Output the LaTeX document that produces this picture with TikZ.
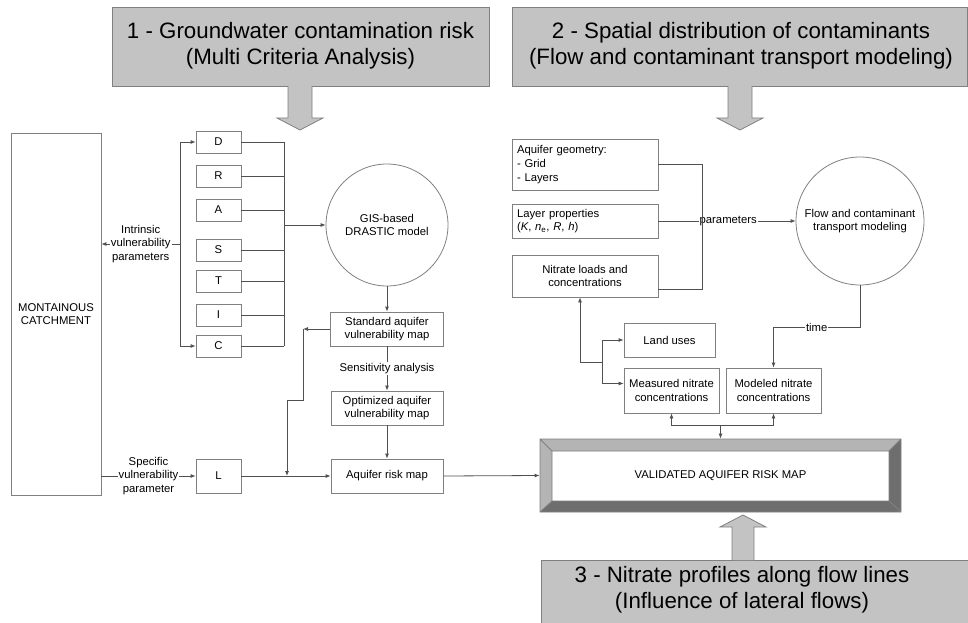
\documentclass[tikz,border=0pt]{standalone}
\usepackage{fontspec}
\setmainfont{Liberation Sans}
\usetikzlibrary{shapes, positioning, arrows.meta}

\definecolor{hdrgray}{HTML}{C3C3C3}
\definecolor{edgegray}{HTML}{808080}
\definecolor{linegray}{HTML}{505050}
\definecolor{bevlight}{HTML}{B4B4B4}
\definecolor{bevdark}{HTML}{6E6E6E}

\newcommand{\lblfont}{\fontsize{11.3}{13.6}\selectfont}
\newcommand{\hdrfont}{\fontsize{22.3}{26}\selectfont}

\begin{document}
\begin{tikzpicture}[x=1pt, y=-1pt, line width=0.8pt,
  box/.style={draw=edgegray, fill=white, inner sep=2pt, align=center, font=\lblfont},
  circ/.style={draw=edgegray, fill=white, circle, inner sep=0pt, align=center, font=\lblfont},
  hdr/.style={draw=edgegray, fill=hdrgray},
  conn/.style={draw=linegray, -{Latex[length=5pt,width=4pt]}},
  wire/.style={draw=linegray},
  lbl/.style={fill=white, inner sep=1pt, align=center, font=\lblfont}]

    \useasboundingbox (0,0) rectangle (968,623);

    % headers and block arrows
    \draw[hdr] (112,7) rectangle (489,86);
    \node[font=\hdrfont, align=center] (h1) at (300.5,46) {1 - Groundwater contamination risk\\(Multi Criteria Analysis)};
    \draw[hdr] (288,86) -- (288,118) -- (277,118) -- (300,130) -- (323,118) -- (312,118) -- (312,86);

    \draw[hdr] (512,7) rectangle (967,86);
    \node[font=\hdrfont, align=center] (h2) at (741,46) {2 - Spatial distribution of contaminants\\(Flow and contaminant transport modeling)};
    \draw[hdr] (728,86) -- (728,118) -- (717,118) -- (740,130) -- (763,118) -- (752,118) -- (752,86);

    \draw[hdr] (541,560) rectangle (975,640);
    \node[font=\hdrfont, align=center] (h3) at (742,590) {3 - Nitrate profiles along flow lines\\(Influence of lateral flows)};
    \draw[hdr] (732,560) -- (732,527) -- (720,527) -- (743,515) -- (766,527) -- (754,527) -- (754,560);

    % left part
    \node[box, minimum width=90pt, minimum height=362pt] (catch) at (56,314) {MONTAINOUS\\CATCHMENT};

    \foreach \n/\y in {D/142, R/176, A/210, S/250, T/281, I/315, C/346} {
        \node[box, minimum width=45pt, minimum height=22pt] (p\n) at (218.5,\y) {\n};
        \draw[wire] (p\n.east) -- (284,\y);
    }
    \draw[wire] (284,142) -- (284,346);

    \coordinate (dj) at (284,225);
    \node[circ, minimum size=122pt] (gis) at (387,225) {GIS-based\\DRASTIC model};
    \draw[conn] (dj) -- (gis.west);

    \coordinate (ivp) at (180,244);
    \draw[conn] (ivp) |- (pD.west);
    \draw[conn] (ivp) |- (pC.west);
    \draw[conn] (ivp) -- node[lbl]{Intrinsic\\vulnerability\\parameters} (catch.east |- ivp);

    \node[box, minimum width=113pt, minimum height=34pt] (std) at (387,329) {Standard aquifer\\vulnerability map};
    \node[box, minimum width=112pt, minimum height=34pt] (opt) at (387,408) {Optimized aquifer\\vulnerability map};
    \node[box, minimum width=112pt, minimum height=34pt] (risk) at (387,476) {Aquifer risk map};
    \draw[conn] (gis.south) -- (std.north);
    \draw[conn] (std.south) -- node[lbl]{Sensitivity analysis} (opt.north);
    \draw[conn] (opt.south) -- (risk.north);

    \node[box, minimum width=45pt, minimum height=34pt] (pL) at (218.5,476) {L};
    \draw[conn] (catch.east |- pL) -- node[lbl]{Specific\\vulnerability\\parameter} (pL.west);
    \draw[conn] (pL.east) -- (risk.west);

    % feedback from the standard map
    \coordinate (back1) at (303,329);
    \coordinate (back2) at (303,400);
    \coordinate (back3) at (287,400);
    \coordinate (back4) at (287,476);
    \draw[conn] (std.west) -- (back1);
    \draw[conn] (back1) -- (back2) -- (back3) -- (back4);

    % right part
    \node[box, minimum width=146pt, minimum height=51pt, text width=136pt, align=left, inner sep=5pt] (geo) at (585,164.5) {Aquifer geometry:\\- Grid\\- Layers};
    \node[box, minimum width=146pt, minimum height=34pt, text width=136pt, align=left, inner sep=5pt] (lay) at (585,221) {Layer properties\\(\textit{K}, \textit{n}\textsubscript{e}, \textit{R}, \textit{h})};
    \node[box, minimum width=146pt, minimum height=42pt] (loads) at (585,276) {Nitrate loads and\\concentrations};
    \node[circ, minimum size=128pt] (flow) at (860,221) {Flow and contaminant\\transport modeling};

    \coordinate (pj) at (702,221);
    \draw[wire] (lay.east) -- (pj);
    \draw[conn] (pj) -- node[lbl, pos=.28]{parameters} (flow.west);
    \draw[wire] (geo.east) -| (pj) |- ([yshift=-13pt]loads.east);

    \node[box, minimum width=91pt, minimum height=34pt] (land) at (669.5,340) {Land uses};
    \node[box, minimum width=95pt, minimum height=45pt] (meas) at (671.5,390.5) {Measured nitrate\\concentrations};
    \node[box, minimum width=95pt, minimum height=45pt] (model) at (773.5,390.5) {Modeled nitrate\\concentrations};

    \coordinate (fork) at (580,362);
    \coordinate (fork2) at (602,362);
    \draw[conn] (fork) -- (fork |- loads.south);
    \draw[wire] (fork) -- (fork2);
    \draw[conn] (fork2) |- (land.west);
    \draw[conn] (fork2) |- ([yshift=7pt]meas.west);

    \coordinate (tc) at (773.5,327);
    \draw[conn] (flow.south) |- node[lbl, pos=.75]{time} (tc) -- (model.north);

    % validated map, bevelled frame
    \fill[bevlight] (540,439) -- (901,439) -- (889,451) -- (552,451) -- cycle;
    \fill[bevlight] (540,439) -- (552,451) -- (552,501) -- (540,512) -- cycle;
    \fill[bevdark] (901,439) -- (901,512) -- (889,501) -- (889,451) -- cycle;
    \fill[bevdark] (540,512) -- (901,512) -- (889,501) -- (552,501) -- cycle;
    \draw[edgegray] (540,439) rectangle (901,512) (552,451) rectangle (889,501)
        (540,439) -- (552,451) (901,439) -- (889,451)
        (540,512) -- (552,501) (901,512) -- (889,501);
    \node[font=\lblfont, minimum width=361pt, minimum height=73pt] (valid) at (720.5,475.5) {VALIDATED AQUIFER RISK MAP};

    \draw[conn] (risk.east) -- (valid.west);
    \coordinate (vj) at (720.5,425);
    \draw[conn] (vj) -- (valid.north);
    \draw[conn] (vj) -| (meas.south);
    \draw[conn] (vj) -| (model.south);
\end{tikzpicture}
\end{document}
